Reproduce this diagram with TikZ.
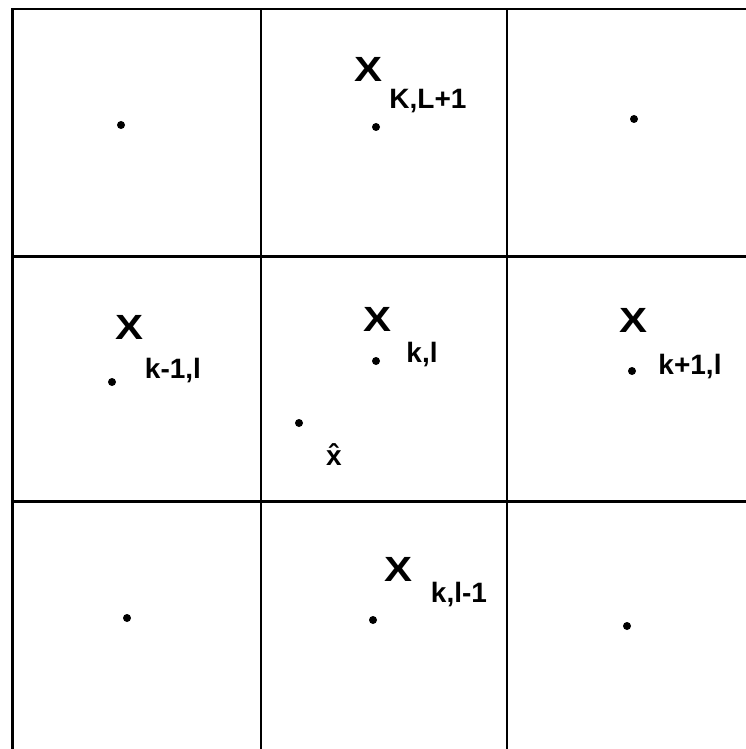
\documentclass[tikz,border=0pt]{standalone}
\usepackage{fontspec}
\setmainfont{Liberation Sans}
\usepackage{tikz}
\usetikzlibrary{positioning}

\begin{document}
\begin{tikzpicture}[x=1pt, y=-1pt,
    gridline/.style={line width=2.2pt, black},
    pt/.style={circle, fill=black, inner sep=0pt, minimum size=8pt},
    bigx/.style={font=\fontsize{35}{35}\selectfont\bfseries, inner sep=0pt,
                 xscale=1.2, transform shape},
    sub/.style={font=\fontsize{28}{28}\selectfont\bfseries, inner sep=0pt}]

  \useasboundingbox (0,0) rectangle (746,749);

  % grid
  \draw[gridline] (12.5,749) -- (12.5,9) -- (746,9);
  \draw[gridline] (261,9) -- (261,749);
  \draw[gridline] (507,9) -- (507,749);
  \draw[gridline] (14,256.5) -- (746,256.5);
  \draw[gridline] (14,501.5) -- (746,501.5);

  % top row
  \node[pt] (tl) at (121,125) {};
  \node[pt] (tm) at (376,127) {};
  \node[pt] (tr) at (634,119) {};
  \node[bigx] (xtm) at (369,69) {X};
  \node[sub] (stm) at (428,101) {K,L+1};

  % middle row
  \node[pt] (ml) at (112,382) {};
  \node[pt] (mm) at (376,361) {};
  \node[pt] (mr) at (632,371) {};
  \node[bigx] (xml) at (130,327) {X};
  \node[sub] (sml) at (173,371) {k-1,l};
  \node[bigx] (xmm) at (378,319) {X};
  \node[sub] (smm) at (422,355) {k,l};
  \node[bigx] (xmr) at (633,320) {X};
  \node[sub] (smr) at (690,367) {k+1,l};

  % estimate
  \node[pt] (xh) at (299,423) {};
  \node[sub, anchor=base] (lxh) at (334,465) {\^{x}};

  % bottom row
  \node[pt] (bl) at (127,618) {};
  \node[pt] (bm) at (373,620) {};
  \node[pt] (br) at (627,626) {};
  \node[bigx] (xbm) at (399,569) {X};
  \node[sub] (sbm) at (459,595) {k,l-1};

\end{tikzpicture}
\end{document}
